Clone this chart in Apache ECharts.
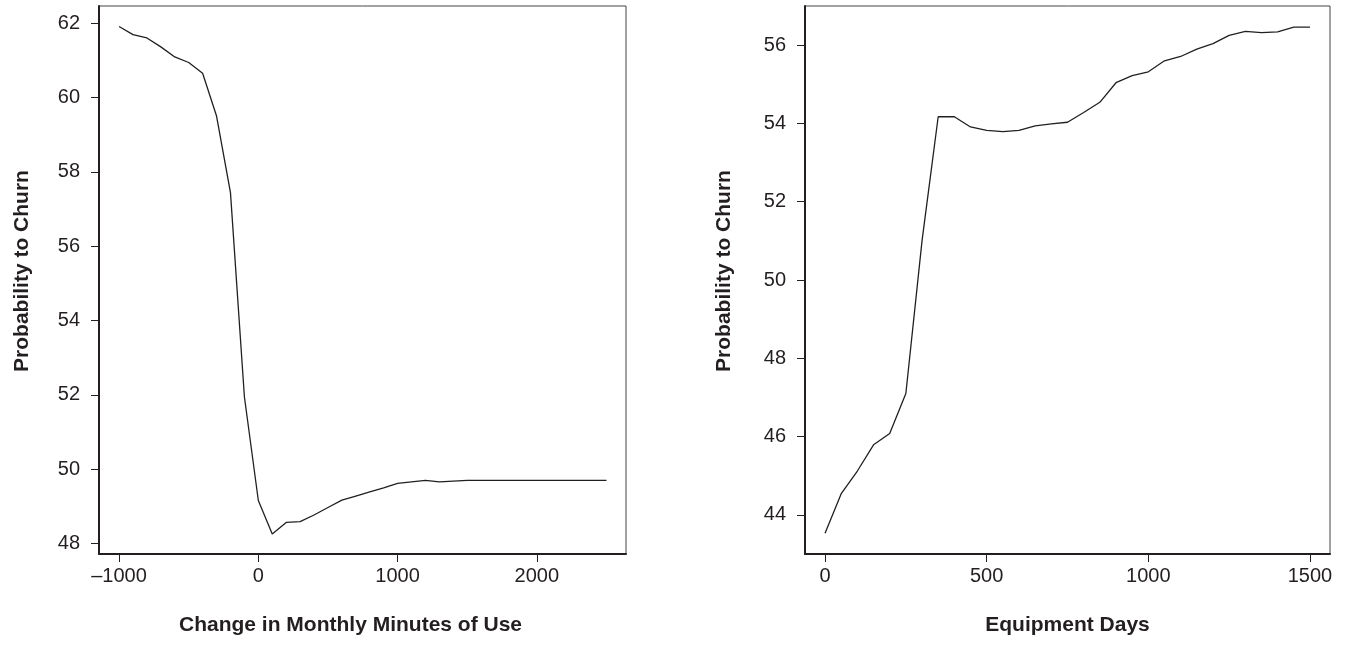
<!DOCTYPE html>
<html>
<head>
<meta charset="utf-8">
<script src="https://cdn.jsdelivr.net/npm/echarts@6/dist/echarts.min.js"></script>
<style>
  html, body { margin: 0; padding: 0; background: #fff; }
  #chart { width: 1348px; height: 646px; }
</style>
</head>
<body>
<div id="chart"></div>
<script>
// left panel: change in monthly minutes of use
var minutesX = [-1000, -900, -800, -700, -600, -500, -400, -300, -200, -100, 0, 100, 200, 300, 400, 500, 600, 700, 800, 900, 1000, 1100, 1200, 1300, 1400, 1500, 2500];
var minutesChurn = [61.91, 61.69, 61.60, 61.36, 61.09, 60.94, 60.65, 59.50, 57.44, 51.95, 49.16, 48.26, 48.57, 48.59, 48.77, 48.97, 49.17, 49.28, 49.39, 49.50, 49.62, 49.66, 49.70, 49.66, 49.68, 49.70, 49.70];
var minutesTicks = [-1000, 0, 1000, 2000];
var churnTicksLeft = [48, 50, 52, 54, 56, 58, 60, 62];

// right panel: equipment days
var equipX = [0, 50, 100, 150, 200, 250, 300, 350, 400, 450, 500, 550, 600, 650, 700, 750, 800, 850, 900, 950, 1000, 1050, 1100, 1150, 1200, 1250, 1300, 1350, 1400, 1450, 1500];
var equipChurn = [43.53, 44.54, 45.12, 45.79, 46.08, 47.10, 51.0, 54.17, 54.17, 53.91, 53.82, 53.79, 53.82, 53.94, 53.99, 54.03, 54.28, 54.54, 55.04, 55.22, 55.32, 55.60, 55.71, 55.90, 56.04, 56.25, 56.35, 56.32, 56.34, 56.46, 56.46];
var equipTicks = [0, 500, 1000, 1500];
var churnTicksRight = [44, 46, 48, 50, 52, 54, 56];

var font = '"Liberation Sans", Arial, Helvetica, sans-serif';
var ink = '#231f20';

function pairs(xs, ys) {
  return xs.map(function (x, i) { return [x, ys[i]]; });
}

function xAxisCfg(idx, name, min, max, ticks, pad) {
  return {
    type: 'value',
    gridIndex: idx,
    min: min,
    max: max,
    name: name,
    nameLocation: 'middle',
    nameGap: 61,
    nameTextStyle: { fontFamily: font, fontSize: 21, fontWeight: 'bold', color: ink, padding: pad },
    splitLine: { show: false },
    axisLine: { show: true, onZero: false, lineStyle: { color: ink, width: 2 } },
    axisTick: { show: true, length: 8, customValues: ticks, lineStyle: { color: ink, width: 1 } },
    axisLabel: {
      customValues: ticks,
      margin: 12,
      fontFamily: font,
      fontSize: 20,
      color: ink,
      formatter: function (v) { return String(v).replace('-', '\u2013'); }
    }
  };
}

function yAxisCfg(idx, min, max, ticks, gap) {
  return {
    type: 'value',
    gridIndex: idx,
    min: min,
    max: max,
    name: 'Probability to Churn',
    nameLocation: 'middle',
    nameRotate: 90,
    nameGap: gap,
    nameTextStyle: { fontFamily: font, fontSize: 21, fontWeight: 'bold', color: ink, padding: [0, 0, 0, 18] },
    splitLine: { show: false },
    axisLine: { show: true, onZero: false, lineStyle: { color: ink, width: 2 } },
    axisTick: { show: true, length: 8, customValues: ticks, lineStyle: { color: ink, width: 1 } },
    axisLabel: { customValues: ticks, margin: 19, fontFamily: font, fontSize: 20, color: ink }
  };
}

var chart = echarts.init(document.getElementById('chart'));
var option = {
  backgroundColor: '#fff',
  animation: false,
  grid: [
    { left: 99, right: 722, top: 6, bottom: 92, show: true, borderColor: '#444', borderWidth: 1 },
    { left: 805, right: 18, top: 6, bottom: 92, show: true, borderColor: '#444', borderWidth: 1 }
  ],
  xAxis: [
    xAxisCfg(0, 'Change in Monthly Minutes of Use', -1144, 2640, minutesTicks, [0, 24, 0, 0]),
    xAxisCfg(1, 'Equipment Days', -62, 1562, equipTicks, 0)
  ],
  yAxis: [
    yAxisCfg(0, 47.72, 62.46, churnTicksLeft, 66),
    yAxisCfg(1, 43.0, 57.0, churnTicksRight, 70)
  ],
  series: [
    {
      type: 'line',
      xAxisIndex: 0,
      yAxisIndex: 0,
      data: pairs(minutesX, minutesChurn),
      showSymbol: false,
      lineStyle: { color: ink, width: 1.3 }
    },
    {
      type: 'line',
      xAxisIndex: 1,
      yAxisIndex: 1,
      data: pairs(equipX, equipChurn),
      showSymbol: false,
      lineStyle: { color: ink, width: 1.3 }
    }
  ]
};
chart.setOption(option);
</script>
</body>
</html>
